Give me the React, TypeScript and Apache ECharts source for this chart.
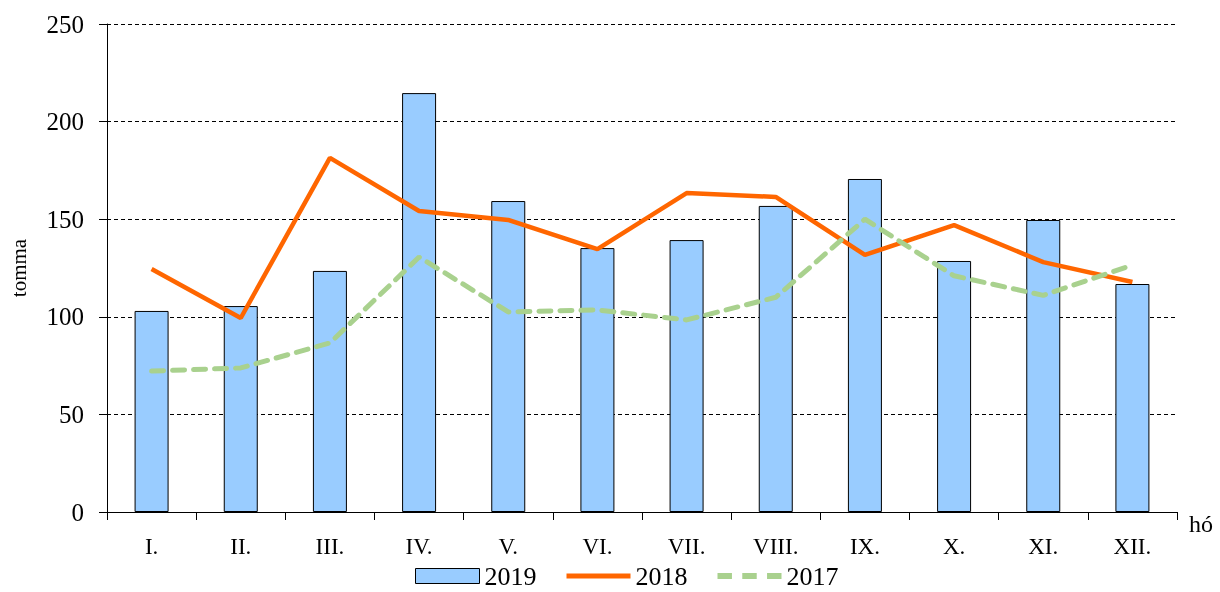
import React, { useEffect, useRef } from "react";
import * as echarts from "echarts";

const months = ["I.", "II.", "III.", "IV.", "V.", "VI.", "VII.", "VIII.", "IX.", "X.", "XI.", "XII."];
const values2019 = [103, 105.5, 123.5, 214.6, 159.3, 135.2, 139.3, 156.8, 170.6, 128.6, 149.6, 116.8];
const values2018 = [124.5, 99.4, 181.4, 154.2, 149.6, 134.7, 163.4, 161.4, 131.7, 147, 128, 117.8];
const values2017 = [72.2, 73.8, 86.6, 130.6, 102.5, 103.5, 98.4, 110, 150, 121, 111, 126.5];

const FONT = "'Liberation Serif', 'Times New Roman', serif";

export default function App() {
  const ref = useRef<HTMLDivElement>(null);
  useEffect(() => {
    if (!ref.current) return;
    const chart = echarts.init(ref.current, null, { renderer: "svg" });
    chart.setOption({
      animation: false,
      textStyle: { fontFamily: FONT, color: "#000" },
      grid: { left: 105, right: 43, top: 24, bottom: 80, containLabel: false },
      legend: {
        bottom: -2,
        left: 410,
        itemWidth: 64,
        itemHeight: 15,
        itemGap: 30,
        textStyle: { fontFamily: FONT, fontSize: 26, color: "#000" },
        data: [
          { name: "2019", icon: "rect", itemStyle: { color: "#99ccff", borderColor: "#000", borderWidth: 1 } },
          { name: "2018", icon: "path://M0 0H64V5H0Z" },
          { name: "2017", icon: "path://M0 0H14V6H0Z M24 0H38V6H24Z M48 0H62V6H48Z" },
        ],
      },
      xAxis: {
        type: "category",
        data: months,
        name: "hó",
        nameLocation: "end",
        nameGap: 12,
        nameTextStyle: { fontFamily: FONT, fontSize: 24, color: "#000", verticalAlign: "top", padding: [0, 0, 0, 0] },
        axisLine: { lineStyle: { color: "#000", width: 1 } },
        axisTick: { show: true, length: 8, lineStyle: { color: "#000" } },
        axisLabel: { fontFamily: FONT, fontSize: 23, color: "#000", margin: 23 },
        splitLine: { show: false },
      },
      yAxis: {
        type: "value",
        min: 0,
        max: 250,
        interval: 50,
        name: "tomma",
        nameLocation: "middle",
        nameRotate: 90,
        nameGap: 78,
        nameTextStyle: { fontFamily: FONT, fontSize: 21, color: "#000" },
        axisLine: { show: true, lineStyle: { color: "#000", width: 1 } },
        axisTick: { show: true, length: 8, lineStyle: { color: "#000" } },
        axisLabel: { fontFamily: FONT, fontSize: 25, color: "#000", margin: 23 },
        splitLine: { show: true, lineStyle: { color: "#000", type: [4, 3], width: 1 } },
      },
      series: [
        {
          name: "2019",
          type: "bar",
          data: values2019,
          barWidth: 34,
          itemStyle: { color: "#99ccff", borderColor: "#000", borderWidth: 1 },
        },
        {
          name: "2018",
          type: "line",
          data: values2018,
          symbol: "none",
          lineStyle: { color: "#ff6600", width: 4.5 },
          itemStyle: { color: "#ff6600" },
        },
        {
          name: "2017",
          type: "line",
          data: values2017,
          symbol: "none",
          lineStyle: { color: "#a9d18e", width: 5, type: [12, 9], cap: "round" },
          itemStyle: { color: "#a9d18e" },
        },
      ],
    });
    return () => chart.dispose();
  }, []);
  return <div ref={ref} style={{ position: "fixed", left: 0, top: 0, width: 1220, height: 592 }} />;
}
